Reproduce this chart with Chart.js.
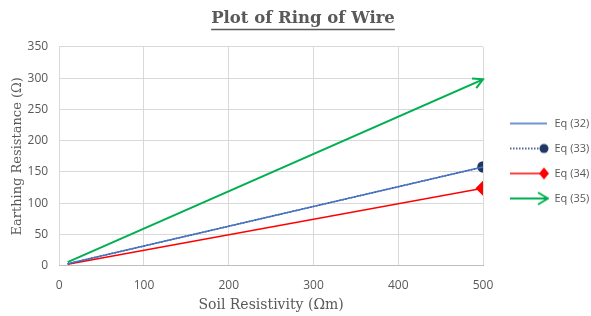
<!DOCTYPE html>
<html>
<head>
<meta charset="utf-8">
<script src="https://cdn.jsdelivr.net/npm/chart.js@4"></script>
<style>
  html, body { margin: 0; padding: 0; background: #fff; }
  #wrap { width: 591px; height: 316px; }
</style>
</head>
<body>
<div id="wrap"><canvas id="ringChart"></canvas></div>
<script>
// Chart data
const soilResistivity = [10, 500];
const eq32 = [3.2, 158];
const eq33 = [3.2, 158];
const eq34 = [2.5, 124];
const eq35 = [6, 298];
const seriesNames = ['Eq (32)', 'Eq (33)', 'Eq (34)', 'Eq (35)'];
const xTicks = [0, 100, 200, 300, 400, 500];
const yTicks = [0, 50, 100, 150, 200, 250, 300, 350];

const GREY = '#595959';
const BLUE = '#4472C4';
const NAVY = '#1F3864';
const RED = '#FF0000';
const GREEN = '#00B050';
const SERIF = '"DejaVu Serif", serif';
const SANS = '"Open Sans", "Liberation Sans", sans-serif';

const toPoints = ys => soilResistivity.map((x, i) => ({ x: x, y: ys[i] }));

// small canvases used as legend samples (left margin leaves the gap to the plot)
function legendSample(kind) {
    const c = document.createElement('canvas');
    c.width = 52; c.height = 16;
    const g = c.getContext('2d');
    const y = 8, x0 = 13, x1 = 50;
    g.lineWidth = kind === 'green' ? 2 : 1.5;
    if (kind === 'blue') {
        g.strokeStyle = BLUE;
        g.beginPath(); g.moveTo(x0, y); g.lineTo(x1, y); g.stroke();
    } else if (kind === 'navy') {
        g.strokeStyle = NAVY;
        g.setLineDash([1.5, 1.5]);
        g.beginPath(); g.moveTo(x0, y); g.lineTo(x1 - 4, y); g.stroke();
        g.setLineDash([]);
        g.fillStyle = NAVY;
        g.beginPath(); g.arc(x1 - 3, y, 4.5, 0, Math.PI * 2); g.fill();
    } else if (kind === 'red') {
        g.strokeStyle = RED;
        g.beginPath(); g.moveTo(x0, y); g.lineTo(x1 - 4, y); g.stroke();
        g.fillStyle = RED;
        g.beginPath(); g.moveTo(x1 - 3, y - 6); g.lineTo(x1 + 2, y); g.lineTo(x1 - 3, y + 6); g.lineTo(x1 - 8, y); g.closePath(); g.fill();
    } else {
        g.strokeStyle = GREEN;
        g.beginPath(); g.moveTo(x0, y); g.lineTo(x1, y); g.stroke();
        g.beginPath(); g.moveTo(x1 - 9, y - 6); g.lineTo(x1 + 1, y); g.lineTo(x1 - 9, y + 6); g.stroke();
    }
    return c;
}
const samples = [legendSample('blue'), legendSample('navy'), legendSample('red'), legendSample('green')];

// underline under the title
const titleUnderline = {
    id: 'titleUnderline',
    afterDraw(chart) {
        const t = chart.titleBlock;
        if (!t) return;
        const ctx = chart.ctx;
        const opts = chart.options.plugins.title;
        ctx.save();
        ctx.font = `bold ${opts.font.size}px ${opts.font.family}`;
        const w = ctx.measureText(opts.text).width;
        const cx = (t.left + t.right) / 2;
        const y = t.top + opts.padding.top + opts.font.size + 4;
        ctx.strokeStyle = GREY;
        ctx.lineWidth = 1.5;
        ctx.beginPath();
        ctx.moveTo(cx - w / 2, y);
        ctx.lineTo(cx + w / 2, y);
        ctx.stroke();
        ctx.restore();
    }
};

// nudge the legend column down a little
const legendNudge = {
    id: 'legendNudge',
    afterLayout(chart) {
        if (chart.legend) {
            chart.legend.top += 3;
            chart.legend.bottom += 3;
        }
    }
};

// open arrow head at the end of Eq (35)
const arrowHead = {
    id: 'arrowHead',
    afterDatasetsDraw(chart) {
        const pts = chart.getDatasetMeta(3).data;
        if (pts.length < 2) return;
        const a = pts[pts.length - 2], b = pts[pts.length - 1];
        const ang = Math.atan2(b.y - a.y, b.x - a.x);
        const len = 11, spread = 0.5;
        const ctx = chart.ctx;
        ctx.save();
        ctx.strokeStyle = GREEN;
        ctx.lineWidth = 2;
        ctx.beginPath();
        ctx.moveTo(b.x - len * Math.cos(ang - spread), b.y - len * Math.sin(ang - spread));
        ctx.lineTo(b.x, b.y);
        ctx.lineTo(b.x - len * Math.cos(ang + spread), b.y - len * Math.sin(ang + spread));
        ctx.stroke();
        ctx.restore();
    }
};

const lastOnly = r => ctx => (ctx.dataIndex === soilResistivity.length - 1 ? r : 0);

new Chart(document.getElementById('ringChart'), {
    type: 'line',
    data: {
        datasets: [
            {
                label: seriesNames[0],
                data: toPoints(eq32),
                borderColor: BLUE,
                borderWidth: 1.5,
                pointRadius: 0
            },
            {
                label: seriesNames[1],
                data: toPoints(eq33),
                borderColor: NAVY,
                borderWidth: 1.5,
                borderDash: [1.5, 1.5],
                pointStyle: 'circle',
                pointRadius: lastOnly(5),
                pointBackgroundColor: NAVY,
                pointBorderColor: NAVY
            },
            {
                label: seriesNames[2],
                data: toPoints(eq34),
                borderColor: RED,
                borderWidth: 1.5,
                pointStyle: 'rectRot',
                pointRadius: lastOnly(6.5),
                pointBackgroundColor: RED,
                pointBorderColor: RED
            },
            {
                label: seriesNames[3],
                data: toPoints(eq35),
                borderColor: GREEN,
                borderWidth: 2,
                pointRadius: 0
            }
        ]
    },
    options: {
        responsive: true,
        maintainAspectRatio: false,
        animation: false,
        layout: { padding: { left: 15, right: 0, top: 2, bottom: 2 } },
        plugins: {
            title: {
                display: true,
                text: 'Plot of Ring of Wire',
                color: GREY,
                font: { family: SERIF, size: 16.5, weight: 'bold' },
                padding: { top: 7, bottom: 18 }
            },
            legend: {
                position: 'right',
                maxWidth: 108,
                labels: {
                    usePointStyle: true,
                    pointStyleWidth: 52,
                    padding: 14,
                    color: GREY,
                    font: { family: SANS, size: 11 },
                    generateLabels: chart => chart.data.datasets.map((ds, i) => ({
                        text: ds.label,
                        pointStyle: samples[i],
                        fillStyle: 'transparent',
                        strokeStyle: 'transparent',
                        lineWidth: 0,
                        fontColor: GREY,
                        datasetIndex: i
                    }))
                }
            },
            tooltip: { enabled: false }
        },
        scales: {
            x: {
                type: 'linear',
                min: 0,
                max: 500,
                afterBuildTicks: s => { s.ticks = xTicks.map(v => ({ value: v })); },
                ticks: { color: GREY, font: { family: SANS, size: 12 }, padding: 13 },
                grid: { color: '#d9d9d9', drawTicks: false },
                border: { color: '#bfbfbf' },
                title: {
                    display: true,
                    text: 'Soil Resistivity (Ωm)',
                    color: GREY,
                    font: { family: SERIF, size: 14 },
                    padding: { top: -9, bottom: 0 }
                }
            },
            y: {
                min: 0,
                max: 350,
                afterBuildTicks: s => { s.ticks = yTicks.map(v => ({ value: v })); },
                ticks: { color: GREY, font: { family: SANS, size: 12 }, padding: 11 },
                grid: { color: '#d9d9d9', drawTicks: false },
                border: { display: false },
                title: {
                    display: true,
                    text: 'Earthing Resistance (Ω)',
                    color: GREY,
                    font: { family: SERIF, size: 13 },
                    padding: { top: -5, bottom: -9 }
                }
            }
        }
    },
    plugins: [titleUnderline, legendNudge, arrowHead]
});
</script>
</body>
</html>
